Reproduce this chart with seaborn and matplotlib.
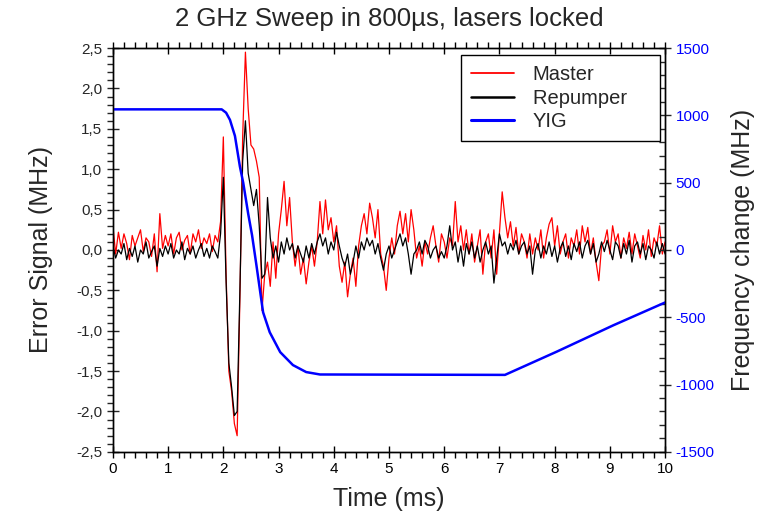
import numpy as np
import pandas as pd
import matplotlib
matplotlib.use("Agg")
import matplotlib.pyplot as plt
import seaborn as sns
from matplotlib.lines import Line2D
from matplotlib.ticker import MultipleLocator, FuncFormatter

# time axis of the two error signals, 0.05 ms sampling (0 .. 10 ms)
time_ms = np.linspace(0, 10, 201)

master = [
    0.30, -0.05, 0.22, 0.02, 0.20, 0.08, -0.12, 0.18, 0.05, 0.15,
    0.25, -0.02, 0.15, 0.10, -0.08, 0.20, -0.27, 0.45, 0.02, 0.18,
    0.05, 0.20, -0.05, 0.15, 0.22, 0.00, 0.12, 0.18, -0.05, 0.20,
    0.10, 0.25, 0.02, 0.15, 0.08, 0.20, -0.02, 0.18, 0.10, 0.35,
    1.40, -0.30, -1.50, -1.75, -2.15, -2.30, -0.60, 1.40, 2.45, 1.75,
    1.30, 1.25, 1.10, 0.90, -0.75, -0.30, -0.15, -0.45, 0.10, -0.35,
    0.20, 0.50, 0.85, 0.30, 0.65, 0.10, -0.20, 0.05, -0.30, -0.10,
    -0.42, -0.15, 0.05, -0.20, 0.10, 0.60, 0.20, 0.62, 0.25, 0.40,
    0.10, 0.30, -0.20, -0.40, -0.15, -0.58, -0.30, -0.10, -0.45, 0.05,
    0.30, 0.45, 0.20, 0.58, 0.40, 0.15, 0.50, -0.05, -0.20, -0.50,
    -0.10, 0.15, -0.05, 0.30, 0.48, 0.20, 0.45, 0.10, 0.50, 0.25,
    -0.10, 0.05, -0.20, 0.10, -0.05, 0.15, 0.30, 0.05, -0.15, 0.20,
    0.10, -0.10, 0.15, 0.05, 0.60, 0.10, 0.30, 0.00, 0.25, -0.05,
    0.20, -0.15, 0.05, 0.25, -0.30, 0.10, 0.20, -0.10, 0.25, -0.30,
    0.20, 0.72, 0.40, 0.15, 0.35, 0.05, 0.28, -0.05, 0.20, 0.10,
    -0.10, 0.20, -0.05, 0.15, 0.00, 0.25, -0.10, 0.15, 0.32, 0.40,
    0.05, 0.30, -0.05, 0.10, 0.20, -0.10, 0.15, 0.05, 0.25, -0.05,
    0.30, 0.10, 0.28, -0.05, 0.15, -0.15, -0.38, 0.05, 0.10, 0.25,
    -0.05, 0.30, 0.10, 0.20, -0.10, 0.15, 0.02, 0.22, -0.05, 0.20,
    0.05, -0.10, 0.18, 0.00, 0.25, -0.08, 0.15, 0.05, 0.30, -0.05,
    0.10,
]

repumper = [
    0.05, -0.10, 0.00, -0.05, 0.08, -0.12, 0.02, -0.08, 0.05, -0.15,
    0.00, -0.05, 0.10, -0.10, -0.02, 0.05, -0.20, 0.02, -0.08, 0.05,
    -0.05, 0.08, -0.10, 0.00, -0.05, 0.10, -0.12, 0.02, -0.05, 0.05,
    -0.10, 0.00, 0.08, -0.08, 0.02, -0.10, 0.05, -0.02, -0.10, 0.20,
    0.90, -0.40, -1.40, -1.70, -2.05, -2.00, -0.50, 1.10, 1.60, 0.95,
    0.75, 0.55, 0.75, 0.30, -0.35, -0.30, 0.65, 0.15, -0.10, 0.05,
    -0.15, 0.10, -0.05, 0.15, 0.00, 0.08, -0.10, 0.05, -0.05, -0.15,
    0.05, -0.10, 0.08, -0.05, 0.10, 0.20, 0.05, 0.15, -0.05, 0.10,
    0.00, 0.22, 0.05, -0.10, -0.20, -0.05, -0.30, -0.15, 0.05, -0.10,
    0.10, 0.00, 0.15, 0.05, 0.12, -0.05, 0.08, -0.10, -0.25, -0.05,
    0.05, -0.10, 0.00, 0.10, 0.20, 0.05, 0.15, -0.05, -0.30, -0.05,
    0.00, 0.10, -0.05, 0.12, 0.05, -0.10, 0.00, 0.05, -0.10, -0.02,
    -0.10, 0.05, 0.30, 0.00, 0.10, -0.15, 0.05, -0.20, 0.08, -0.05,
    0.10, -0.10, 0.05, -0.15, 0.00, 0.10, -0.05, 0.05, -0.41, -0.10,
    0.20, 0.05, 0.10, -0.05, 0.08, 0.00, 0.12, -0.05, 0.05, 0.10,
    -0.05, 0.05, -0.30, 0.00, 0.08, -0.10, 0.05, -0.05, 0.10, -0.08,
    0.05, -0.15, 0.02, 0.10, -0.08, 0.05, -0.12, 0.08, -0.02, 0.10,
    -0.10, 0.05, 0.12, -0.05, 0.08, -0.15, -0.05, 0.10, -0.02, 0.12,
    0.00, -0.12, 0.10, 0.05, -0.10, 0.08, -0.05, 0.12, -0.15, 0.05,
    0.10, -0.05, 0.08, -0.12, 0.05, 0.00, -0.10, 0.10, -0.05, 0.08,
    -0.05,
]

# YIG frequency sweep (MHz)
yig_time = [0, 1.97, 2.05, 2.12, 2.21, 2.30, 2.36, 2.45, 2.52, 2.60,
            2.72, 2.84, 3.03, 3.26, 3.50, 3.75, 7.10, 8.04, 9.06, 10.0]
yig_freq = [1045, 1045, 1020, 967, 848, 620, 500, 270, 110, -115,
            -463, -611, -759, -855, -907, -925, -928, -755, -560, -390]

sns.set_style("ticks")
plt.rcParams["font.family"] = ["Liberation Sans", "DejaVu Sans"]

err = pd.DataFrame({"t": time_ms, "Master": master, "Repumper": repumper})
yig = pd.DataFrame({"t": yig_time, "YIG": yig_freq})

fig, ax = plt.subplots(figsize=(7.68, 5.23), dpi=100)
fig.subplots_adjust(left=0.147, right=0.866, bottom=0.136, top=0.908)

sns.lineplot(data=err, x="t", y="Master", ax=ax, color="#ff0000", lw=0.9,
             estimator=None, legend=False)
sns.lineplot(data=err, x="t", y="Repumper", ax=ax, color="black", lw=0.9,
             estimator=None, legend=False)

ax2 = ax.twinx()
sns.lineplot(data=yig, x="t", y="YIG", ax=ax2, color="#0000ff", lw=1.8,
             estimator=None, legend=False)

ax.set_xlim(0, 10)
ax.set_ylim(-2.5, 2.5)
ax2.set_ylim(-1500, 1500)

ax.xaxis.set_major_locator(MultipleLocator(1))
ax.xaxis.set_minor_locator(MultipleLocator(0.2))
ax.yaxis.set_major_locator(MultipleLocator(0.5))
ax.yaxis.set_minor_locator(MultipleLocator(0.1))
ax.yaxis.set_major_formatter(FuncFormatter(lambda v, p: f"{v:.1f}".replace(".", ",")))
ax2.yaxis.set_major_locator(MultipleLocator(500))
ax2.yaxis.set_minor_locator(MultipleLocator(100))
ax2.yaxis.set_major_formatter(FuncFormatter(lambda v, p: f"{v:.0f}"))

for spine in list(ax.spines.values()) + list(ax2.spines.values()):
    spine.set_linewidth(1.0)
    spine.set_color("black")

ax.tick_params(axis="x", which="both", top=True, labelsize=11, width=1, colors="black")
ax.tick_params(axis="x", which="major", direction="inout", length=8)
ax.tick_params(axis="x", which="minor", direction="out", length=4)
ax.tick_params(axis="y", which="major", direction="inout", length=8, labelsize=11, width=1)
ax.tick_params(axis="y", which="minor", direction="out", length=4, width=1)
ax2.tick_params(axis="y", which="major", direction="inout", length=8, labelsize=11,
                width=1, labelcolor="#0000ff")
ax2.tick_params(axis="y", which="minor", direction="in", length=4, width=1)

ax.set_xlabel("Time (ms)", fontsize=18, labelpad=8)
ax.set_ylabel("Error Signal (MHz)", fontsize=18, labelpad=17)
ax2.set_ylabel("Frequency change (MHz)", fontsize=18, labelpad=12)
ax.set_title("2 GHz Sweep in 800µs, lasers locked", fontsize=18.5, pad=16)

# legend box is wider than its text in the original, pad the labels on the right
handles = [Line2D([], [], color="#ff0000", lw=1.3),
           Line2D([], [], color="black", lw=1.8),
           Line2D([], [], color="#0000ff", lw=2.2)]
leg = ax2.legend(handles, ["Master", "Repumper    ", "YIG"], loc="upper right",
                 bbox_to_anchor=(0.99, 0.982), fontsize=14.5, frameon=True,
                 fancybox=False, framealpha=1, edgecolor="black",
                 handlelength=2.1, borderpad=0.5, labelspacing=0.22,
                 handletextpad=0.95, borderaxespad=0, alignment="left")
for txt in leg.get_texts():
    txt.set_horizontalalignment("left")
leg.get_frame().set_linewidth(1.0)

fig.savefig("out.png", dpi=100)
